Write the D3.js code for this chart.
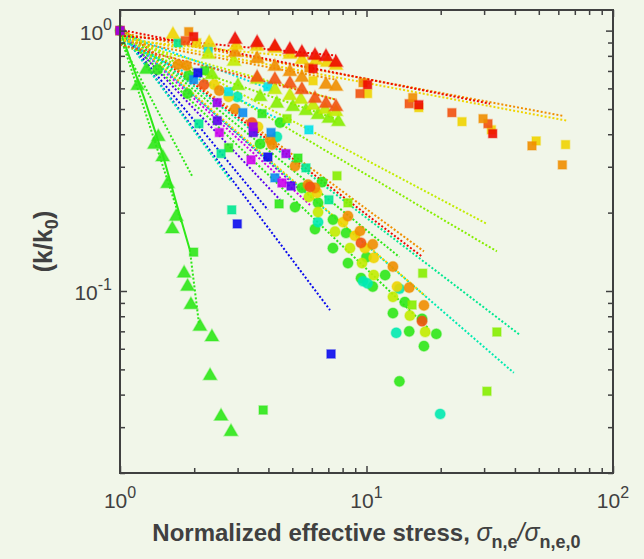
<!DOCTYPE html>
<html>
<head>
<meta charset="utf-8">
<script src="https://cdn.jsdelivr.net/npm/d3@7"></script>
<style>
  body { margin: 0; background: #f2f6ea; }
  svg { display: block; }
  text { font-family: "Liberation Sans", Arial, Helvetica, sans-serif; fill: #404040; }
</style>
</head>
<body>
<div id="chart"></div>
<script>
// ---- data (log-log, k/k0 vs normalized stress) ----

// triangles, short tests
var triRedX = [2.93, 3.60, 4.25, 4.89, 5.47, 6.18, 6.85, 7.52];
var triRedY = [0.923, 0.898, 0.868, 0.845, 0.823, 0.802, 0.794, 0.753];
var triYellowX = [1.64, 2.30, 2.96, 3.60, 4.25, 4.89, 5.47, 6.24, 6.93, 7.52];
var triYellowY = [0.965, 0.898, 0.876, 0.868, 0.853, 0.809, 0.773, 0.767, 0.753, 0.734];
var triOrangeX = [2.93, 3.60, 4.25, 4.89, 5.47, 6.85, 7.52];
var triOrangeY = [0.823, 0.780, 0.727, 0.695, 0.660, 0.620, 0.609];
var triOrangeRedX = [3.60, 4.25, 4.89, 5.47, 6.18, 6.85, 7.52];
var triOrangeRedY = [0.660, 0.648, 0.626, 0.593, 0.548, 0.524, 0.510];
var triYellowGreenX = [2.28, 2.90, 3.60, 4.25, 4.89, 5.42, 6.07, 6.79, 7.52];
var triYellowGreenY = [0.809, 0.760, 0.648, 0.593, 0.562, 0.543, 0.515, 0.497, 0.488];
var triLimeX = [2.36, 3.01, 3.70, 4.33, 5.03, 5.68, 6.36, 7.04, 7.69];
var triLimeY = [0.677, 0.614, 0.557, 0.524, 0.510, 0.492, 0.475, 0.459, 0.446];
var triGreenAX = [1.28, 1.43, 1.56, 1.69, 1.82, 1.94, 2.11, 2.32];
var triGreenAY = [0.708, 0.391, 0.258, 0.193, 0.117, 0.0884, 0.0730, 0.0472];
var triGreenBX = [1.18, 1.38, 1.49, 1.63, 1.88, 2.36, 2.57, 2.82];
var triGreenBY = [0.614, 0.365, 0.327, 0.173, 0.104, 0.0665, 0.0330, 0.0288];

// squares
var sqRedX = [1, 1.99, 6.07, 10.1, 16.3, 32.5];
var sqRedY = [1, 0.948, 0.714, 0.620, 0.519, 0.402];
var sqOrangeX = [1, 1.90, 5.84, 9.68, 15.4, 29.7, 46.9, 62.3];
var sqOrangeY = [1, 0.991, 0.720, 0.631, 0.553, 0.459, 0.361, 0.305];
var sqOrangeRedX = [1.84, 9.41, 14.9, 22.2, 31.1];
var sqOrangeRedY = [0.915, 0.573, 0.524, 0.484, 0.439];
var sqYellowX = [2.05, 6.07, 10.1, 16.3, 24.4, 32.1, 48.8, 64.2];
var sqYellowY = [0.898, 0.642, 0.573, 0.506, 0.447, 0.416, 0.377, 0.365];
var sqYellowGreenX = [4.76, 7.59, 8.41, 16.9, 15.3, 33.8, 30.8];
var sqYellowGreenY = [0.459, 0.277, 0.218, 0.117, 0.0884, 0.0696, 0.0412];
var sqGreenX = [2.21, 3.77, 2.76, 5.27, 4.42, 1.99, 3.81];
var sqGreenY = [0.702, 0.480, 0.355, 0.324, 0.216, 0.141, 0.0349];
var sqSpringX = [1.72, 2.09, 2.57, 2.84, 5.68, 7.04];
var sqSpringY = [0.898, 0.439, 0.337, 0.205, 0.297, 0.224];
var sqCyanX = [2.28, 2.76, 3.98, 5.84];
var sqCyanY = [0.853, 0.583, 0.609, 0.416];
var sqAzureX = [1.99, 3.15, 4.10, 4.25];
var sqAzureY = [0.648, 0.484, 0.406, 0.272];
var sqBlueX = [2.07, 3.98, 2.99, 7.18];
var sqBlueY = [0.689, 0.327, 0.181, 0.0573];
var sqVioletX = [2.48, 3.47, 4.94];
var sqVioletY = [0.451, 0.406, 0.253];
var sqMagentaX = [2.53, 3.40, 4.54];
var sqMagentaY = [0.406, 0.319, 0.260];
var sqPurpleX = [1, 2.48, 3.47, 4.71];
var sqPurpleY = [1, 0.529, 0.427, 0.337];

// circles
var cOrangeAX = [1.72, 2.53, 4.06, 5.79, 8.41, 10.6, 14.9];
var cOrangeAY = [0.740, 0.588, 0.381, 0.256, 0.194, 0.151, 0.103];
var cOrangeBX = [1.86, 2.93, 4.14, 5.13, 6.18, 9.41, 12.8, 17.1];
var cOrangeBY = [0.734, 0.501, 0.365, 0.302, 0.249, 0.170, 0.124, 0.0880];
var cOrangeRedX = [2.19, 3.43, 5.90, 9.50, 16.8];
var cOrangeRedY = [0.620, 0.443, 0.251, 0.153, 0.0766];
var cYellowX = [2.41, 2.76, 3.63, 6.30, 8.03, 8.98, 9.86, 10.7, 13.3];
var cYellowY = [0.620, 0.557, 0.427, 0.238, 0.184, 0.163, 0.146, 0.134, 0.104];
var cYellowGreenX = [5.84, 6.36, 7.45, 8.57, 9.59, 10.7, 12.8, 15.0, 17.3];
var cYellowGreenY = [0.230, 0.201, 0.169, 0.146, 0.128, 0.115, 0.0950, 0.0804, 0.0696];
var cGreenAX = [1, 1.42, 1.90, 4.46, 6.60, 7.31, 8.26, 10.0, 11.9, 14.3, 16.8, 19.2];
var cGreenAY = [1, 0.708, 0.671, 0.443, 0.262, 0.188, 0.167, 0.135, 0.115, 0.0906, 0.0782, 0.0684];
var cGreenBX = [1.88, 3.70, 5.47, 5.13, 6.36, 6.18, 7.31, 8.41, 9.50, 10.6, 12.8, 14.9, 17.1, 13.6];
var cGreenBY = [0.573, 0.367, 0.249, 0.210, 0.218, 0.173, 0.146, 0.128, 0.112, 0.104, 0.0822, 0.0700, 0.0614, 0.0450];
var cSpringX = [2.99, 4.33, 6.36, 9.68, 10.1, 13.6, 13.2, 19.9];
var cSpringY = [0.557, 0.391, 0.184, 0.109, 0.107, 0.102, 0.0690, 0.0337];

// fitted trends (end points, log-log straight)
var fitRedShortX = [1, 7.52], fitRedShortY = [0.957, 0.802];
var fitYellowShortX = [1, 7.52], fitYellowShortY = [0.923, 0.767];
var fitOrangeShortX = [1, 7.52], fitOrangeShortY = [0.923, 0.648];
var fitOrangeRedShortX = [1, 7.52], fitOrangeRedShortY = [0.884, 0.543];
var fitYellowGreenShortX = [1, 7.52], fitYellowGreenShortY = [0.923, 0.543];
var fitLimeShortX = [1, 7.69], fitLimeShortY = [0.884, 0.455];
var fitRedLongX = [1, 31.7], fitRedLongY = [1.009, 0.524];
var fitOrangeLongX = [1, 62.3], fitOrangeLongY = [0.982, 0.471];
var fitYellowLongX = [1, 65.1], fitYellowLongY = [0.948, 0.451];
var fitCyanAX = [1, 4.14], fitCyanAY = [0.982, 0.593];
var fitCyanBX = [1, 4.89], fitCyanBY = [0.923, 0.435];
var fitYellowGreenX = [1, 30.8], fitYellowGreenY = [1.009, 0.181];
var fitLimeX = [1, 33.8], fitLimeY = [1.009, 0.142];
var fitOrangeX = [1, 17.1], fitOrangeY = [1.027, 0.142];
var fitRedX = [1, 16.9], fitRedY = [1.027, 0.135];
var fitGreenAX = [1, 13.6], fitGreenAY = [1.009, 0.135];
var fitYellowX = [1, 17.3], fitYellowY = [1.009, 0.0958];
var fitSpringX = [1, 42.0], fitSpringY = [1.009, 0.0677];
var fitCyanX = [1, 39.6], fitCyanY = [0.991, 0.0485];
var fitGreenBX = [1, 17.8], fitGreenBY = [0.982, 0.0720];
var fitPurpleX = [1, 5.37], fitPurpleY = [1.009, 0.245];
var fitMagentaX = [1, 5.90], fitMagentaY = [1, 0.214];
var fitVioletX = [1, 4.46], fitVioletY = [1, 0.224];
var fitBlueAX = [1, 7.11], fitBlueAY = [1, 0.0845];
var fitBlueBX = [1, 3.98], fitBlueBY = [1, 0.205];
var fitAquaSteepX = [1, 2.84], fitAquaSteepY = [1, 0.262];
var fitGreenSteepAX = [1, 1.97], fitGreenSteepAY = [0.923, 0.274];
var fitGreenSteepBX = [1, 1.77], fitGreenSteepBY = [0.965, 0.184];
var fitGreenSolidX = [1, 1.26, 1.49, 1.71, 1.92], fitGreenSolidY = [1, 0.543, 0.334, 0.210, 0.144];
var fitGreenTailX = [1.92, 2.09], fitGreenTailY = [0.144, 0.0752];

// axis ticks
var xMajor = [1, 10, 100];
var xMinor = [2, 3, 4, 5, 6, 7, 8, 9, 20, 30, 40, 50, 60, 70, 80, 90];
var yMajor = [0.1, 1];
var yMinor = [0.02, 0.03, 0.04, 0.05, 0.06, 0.07, 0.08, 0.09, 0.2, 0.3, 0.4, 0.5, 0.6, 0.7, 0.8, 0.9];
var xExp = ["0", "1", "2"];
var yExp = ["-1", "0"];

// ---- colours ----
var col = {
    red: "#ee0a00", orangeRed: "#f25210", orange: "#f08e00", yellow: "#f0d400",
    yellowGreen: "#c2ec00", lime: "#86ee00", green: "#2ee818", spring: "#00e890",
    aqua: "#00eab0", cyan: "#00e2ea", azure: "#0a8cf0", blue: "#0a0aee",
    violet: "#5a00ee", purple: "#9a00ee", magenta: "#cc00ee"
};

var fits = [
    {x: fitBlueAX, y: fitBlueAY, c: col.blue},
    {x: fitBlueBX, y: fitBlueBY, c: col.blue},
    {x: fitVioletX, y: fitVioletY, c: col.violet},
    {x: fitMagentaX, y: fitMagentaY, c: col.magenta},
    {x: fitPurpleX, y: fitPurpleY, c: col.purple},
    {x: fitAquaSteepX, y: fitAquaSteepY, c: col.aqua},
    {x: fitGreenSteepAX, y: fitGreenSteepAY, c: col.green},
    {x: fitGreenSteepBX, y: fitGreenSteepBY, c: col.green},
    {x: fitGreenTailX, y: fitGreenTailY, c: col.green},
    {x: fitGreenSolidX, y: fitGreenSolidY, c: col.green, solid: true},
    {x: fitCyanX, y: fitCyanY, c: col.aqua},
    {x: fitSpringX, y: fitSpringY, c: col.spring},
    {x: fitGreenBX, y: fitGreenBY, c: col.green},
    {x: fitGreenAX, y: fitGreenAY, c: col.green},
    {x: fitYellowX, y: fitYellowY, c: col.yellow},
    {x: fitRedX, y: fitRedY, c: col.red},
    {x: fitOrangeX, y: fitOrangeY, c: col.orange},
    {x: fitLimeX, y: fitLimeY, c: col.lime},
    {x: fitYellowGreenX, y: fitYellowGreenY, c: col.yellowGreen},
    {x: fitCyanBX, y: fitCyanBY, c: col.cyan},
    {x: fitCyanAX, y: fitCyanAY, c: col.cyan},
    {x: fitYellowLongX, y: fitYellowLongY, c: col.yellow},
    {x: fitOrangeLongX, y: fitOrangeLongY, c: col.orange},
    {x: fitRedLongX, y: fitRedLongY, c: col.red},
    {x: fitLimeShortX, y: fitLimeShortY, c: col.lime},
    {x: fitYellowGreenShortX, y: fitYellowGreenShortY, c: col.yellowGreen},
    {x: fitOrangeRedShortX, y: fitOrangeRedShortY, c: col.orangeRed},
    {x: fitOrangeShortX, y: fitOrangeShortY, c: col.orange},
    {x: fitYellowShortX, y: fitYellowShortY, c: col.yellow},
    {x: fitRedShortX, y: fitRedShortY, c: col.red}
];

var markers = [
    {x: cGreenBX, y: cGreenBY, c: col.green, s: "circle"},
    {x: cGreenAX, y: cGreenAY, c: col.green, s: "circle"},
    {x: cSpringX, y: cSpringY, c: col.aqua, s: "circle"},
    {x: cYellowGreenX, y: cYellowGreenY, c: col.yellowGreen, s: "circle"},
    {x: cYellowX, y: cYellowY, c: col.yellow, s: "circle"},
    {x: cOrangeBX, y: cOrangeBY, c: col.orange, s: "circle"},
    {x: cOrangeAX, y: cOrangeAY, c: col.orange, s: "circle"},
    {x: cOrangeRedX, y: cOrangeRedY, c: col.orangeRed, s: "circle"},
    {x: sqYellowGreenX, y: sqYellowGreenY, c: col.lime, s: "square"},
    {x: sqGreenX, y: sqGreenY, c: col.green, s: "square"},
    {x: sqSpringX, y: sqSpringY, c: col.spring, s: "square"},
    {x: sqCyanX, y: sqCyanY, c: col.cyan, s: "square"},
    {x: sqAzureX, y: sqAzureY, c: col.azure, s: "square"},
    {x: sqBlueX, y: sqBlueY, c: col.blue, s: "square"},
    {x: sqVioletX, y: sqVioletY, c: col.violet, s: "square"},
    {x: sqMagentaX, y: sqMagentaY, c: col.magenta, s: "square"},
    {x: triGreenAX, y: triGreenAY, c: col.green, s: "triangle"},
    {x: triGreenBX, y: triGreenBY, c: col.green, s: "triangle"},
    {x: triLimeX, y: triLimeY, c: col.lime, s: "triangle"},
    {x: triYellowGreenX, y: triYellowGreenY, c: col.yellowGreen, s: "triangle"},
    {x: triOrangeRedX, y: triOrangeRedY, c: col.orangeRed, s: "triangle"},
    {x: triOrangeX, y: triOrangeY, c: col.orange, s: "triangle"},
    {x: triYellowX, y: triYellowY, c: col.yellow, s: "triangle"},
    {x: triRedX, y: triRedY, c: col.red, s: "triangle"},
    {x: sqYellowX, y: sqYellowY, c: col.yellow, s: "square"},
    {x: sqOrangeRedX, y: sqOrangeRedY, c: col.orangeRed, s: "square"},
    {x: sqOrangeX, y: sqOrangeY, c: col.orange, s: "square"},
    {x: sqRedX, y: sqRedY, c: col.red, s: "square"},
    {x: sqPurpleX, y: sqPurpleY, c: col.purple, s: "square"}
];

// ---- layout ----
var svgWidth = 644;
var svgHeight = 559;
var margin = {top: 10, right: 31, bottom: 86, left: 120};
var width = svgWidth - margin.left - margin.right;
var height = svgHeight - margin.top - margin.bottom;
var axisColor = "#404040";

var svg = d3.select("#chart").append("svg").attr("width", svgWidth).attr("height", svgHeight);
svg.append("rect").attr("width", svgWidth).attr("height", svgHeight).attr("fill", "#f1f6e9");

var chartGroup = svg.append("g").attr("transform", `translate(${margin.left}, ${margin.top})`);

var x = d3.scaleLog().domain([1, 100]).range([0, width]);
var y = d3.scaleLog().domain([0.02, 1.2]).range([height, 0]);

// fitted lines
var line = d3.line().x(d => x(d[0])).y(d => y(d[1]));
fits.forEach(function(f) {
    var pts = f.x.map((v, i) => [v, f.y[i]]);
    chartGroup.append("path")
        .attr("d", line(pts))
        .attr("fill", "none")
        .attr("stroke", f.c)
        .attr("stroke-width", 2)
        .attr("stroke-dasharray", f.solid ? null : "2,2");
});

// markers
var shapes = {
    circle: d3.symbol().type(d3.symbolCircle).size(82),
    square: d3.symbol().type(d3.symbolSquare).size(70),
    triangle: d3.symbol().type(d3.symbolTriangle).size(80)
};
markers.forEach(function(m) {
    var pts = m.x.map((v, i) => [v, m.y[i]]);
    chartGroup.selectAll(null).data(pts).enter().append("path")
        .attr("d", shapes[m.s])
        .attr("transform", d => `translate(${x(d[0])}, ${y(d[1])})`)
        .attr("fill", m.c)
        .attr("fill-opacity", 0.9)
        .attr("stroke", m.c)
        .attr("stroke-opacity", 0.35)
        .attr("stroke-width", 1.5);
});

// axes: ticks inside on all four sides
function styleAxis(g) {
    g.select(".domain").remove();
    g.selectAll("line").attr("stroke", axisColor).attr("stroke-width", 1.5);
    g.selectAll("text").remove();
}
chartGroup.append("g").attr("transform", `translate(0, ${height})`)
    .call(d3.axisBottom(x).tickValues(xMajor).tickSize(-7)).call(styleAxis);
chartGroup.append("g").attr("transform", `translate(0, ${height})`)
    .call(d3.axisBottom(x).tickValues(xMinor).tickSize(-5)).call(styleAxis);
chartGroup.append("g")
    .call(d3.axisTop(x).tickValues(xMajor).tickSize(-7)).call(styleAxis);
chartGroup.append("g")
    .call(d3.axisTop(x).tickValues(xMinor).tickSize(-5)).call(styleAxis);
chartGroup.append("g")
    .call(d3.axisLeft(y).tickValues(yMajor).tickSize(-7)).call(styleAxis);
chartGroup.append("g")
    .call(d3.axisLeft(y).tickValues(yMinor).tickSize(-5)).call(styleAxis);
chartGroup.append("g").attr("transform", `translate(${width}, 0)`)
    .call(d3.axisRight(y).tickValues(yMajor).tickSize(-7)).call(styleAxis);
chartGroup.append("g").attr("transform", `translate(${width}, 0)`)
    .call(d3.axisRight(y).tickValues(yMinor).tickSize(-5)).call(styleAxis);

chartGroup.append("rect")
    .attr("width", width).attr("height", height)
    .attr("fill", "none").attr("stroke", axisColor).attr("stroke-width", 2);

// tick labels as powers of ten
xMajor.forEach(function(v, i) {
    var t = chartGroup.append("text")
        .attr("x", x(v)).attr("y", height + 35)
        .attr("text-anchor", "middle").attr("font-size", 21);
    t.append("tspan").text("10");
    t.append("tspan").attr("dy", -10).attr("font-size", 16).text(xExp[i]);
});
yMajor.forEach(function(v, i) {
    var t = chartGroup.append("text")
        .attr("x", -8).attr("y", y(v) + 9)
        .attr("text-anchor", "end").attr("font-size", 21);
    t.append("tspan").text("10");
    t.append("tspan").attr("dy", -10).attr("font-size", 16).text(yExp[i]);
});

// axis titles
var xTitle = chartGroup.append("text")
    .attr("x", width / 2).attr("y", height + 68)
    .attr("text-anchor", "middle").attr("font-size", 24).attr("font-weight", "bold");
xTitle.append("tspan").text("Normalized effective stress, ");
xTitle.append("tspan").attr("font-weight", "normal").attr("font-style", "italic").attr("font-size", 25).text("\u03c3");
xTitle.append("tspan").attr("dy", 7).attr("font-size", 18).text("n,e");
xTitle.append("tspan").attr("dy", -7).attr("font-weight", "normal").attr("font-style", "italic").attr("font-size", 25).text("/\u03c3");
xTitle.append("tspan").attr("dy", 7).attr("font-size", 18).text("n,e,0");

var yTitle = svg.append("text")
    .attr("transform", `translate(52, ${margin.top + height / 2}) rotate(-90)`)
    .attr("text-anchor", "middle").attr("font-size", 25).attr("font-weight", "bold");
yTitle.append("tspan").text("(k/k");
yTitle.append("tspan").attr("dy", 6).attr("font-size", 18).text("0");
yTitle.append("tspan").attr("dy", -6).text(")");
</script>
</body>
</html>
